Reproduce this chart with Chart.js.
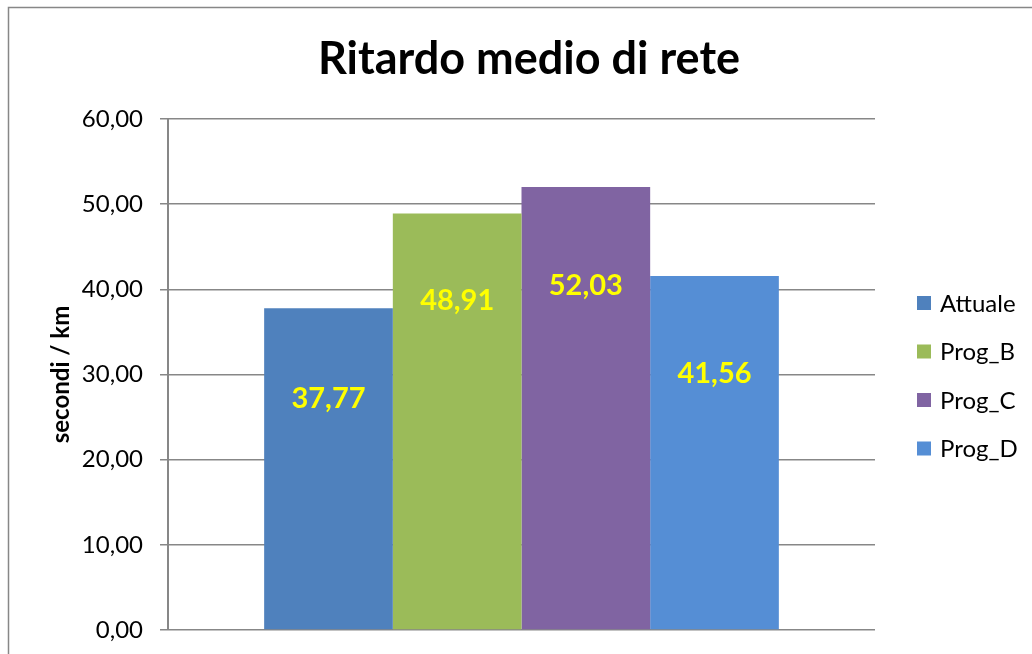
<!DOCTYPE html>
<html>
<head>
<meta charset="utf-8">
<title>Ritardo medio di rete</title>
<script src="https://cdn.jsdelivr.net/npm/chart.js@4"></script>
<style>
  html, body { margin: 0; padding: 0; background: #fff; }
  canvas { display: block; }
</style>
</head>
<body>
<canvas id="graficoRitardo" width="1032" height="654"></canvas>
<script>
const categorie = [""];
const serie = ["Attuale", "Prog_B", "Prog_C", "Prog_D"];
const valori = [37.77, 48.91, 52.03, 41.56];
const tickY = [0, 10, 20, 30, 40, 50, 60];

const colori = ["#4F81BD", "#9BBB59", "#8064A2", "#558ED5"];
const grigio = "#878787";

function formatta(v) {
    return v.toFixed(2).replace(".", ",");
}

// etichette gialle dentro le barre (distanza in px dalla cima della barra alla linea di base)
const spostamenti = [100, 97, 108, 107];
const etichette = {
    id: "etichette",
    afterDatasetsDraw(chart) {
        const ctx = chart.ctx;
        ctx.save();
        ctx.font = "bold 29px Lato";
        ctx.fillStyle = "#FFFF00";
        ctx.textAlign = "center";
        ctx.textBaseline = "alphabetic";
        chart.data.datasets.forEach((ds, i) => {
            const barra = chart.getDatasetMeta(i).data[0];
            ctx.fillText(formatta(ds.data[0]), barra.x, barra.y + spostamenti[i]);
        });
        ctx.restore();
    }
};

// cornice, titolo e legenda a destra
const cornice = {
    id: "cornice",
    afterDraw(chart) {
        const ctx = chart.ctx;
        ctx.save();
        ctx.strokeStyle = grigio;
        ctx.lineWidth = 1.5;
        ctx.strokeRect(8.5, 7.5, 1100, 700);

        ctx.fillStyle = "#000";
        ctx.font = "bold 45px Lato";
        ctx.textAlign = "center";
        ctx.textBaseline = "alphabetic";
        ctx.fillText("Ritardo medio di rete", 529, 74);

        ctx.font = "24px Lato";
        ctx.textAlign = "left";
        chart.data.datasets.forEach((ds, i) => {
            const yc = 303 + i * 48.5;
            ctx.fillStyle = ds.backgroundColor;
            ctx.fillRect(917, yc - 7, 14, 14);
            ctx.fillStyle = "#000";
            ctx.fillText(ds.label, 940, yc + 8.5);
        });
        ctx.restore();
    }
};

const ctx = document.getElementById("graficoRitardo").getContext("2d");

new Chart(ctx, {
    type: "bar",
    data: {
        labels: categorie,
        datasets: serie.map((nome, i) => ({
            label: nome,
            data: [valori[i]],
            backgroundColor: colori[i],
            borderWidth: 0
        }))
    },
    options: {
        responsive: false,
        animation: false,
        layout: { padding: { top: 119, right: 157, bottom: 24, left: 0 } },
        datasets: { bar: { categoryPercentage: 0.728, barPercentage: 1 } },
        plugins: {
            legend: { display: false },
            title: { display: false },
            tooltip: { enabled: false }
        },
        scales: {
            x: { display: false },
            y: {
                min: 0,
                max: 60,
                afterFit: scala => {
                    scala.width = 168;
                    scala.paddingTop = 0;
                    scala.paddingBottom = 0;
                },
                afterBuildTicks: scala => { scala.ticks = tickY.map(v => ({ value: v })); },
                ticks: {
                    color: "#000",
                    padding: 17,
                    font: { family: "Lato", size: 24 },
                    callback: v => formatta(v)
                },
                grid: { color: grigio, lineWidth: 1.5, tickLength: 8 },
                border: { color: grigio, width: 2 },
                title: {
                    display: true,
                    text: "secondi / km",
                    color: "#000",
                    font: { family: "Lato", size: 24, weight: "bold" },
                    padding: { top: 47, bottom: 0 }
                }
            }
        }
    },
    plugins: [etichette, cornice]
});
</script>
</body>
</html>
